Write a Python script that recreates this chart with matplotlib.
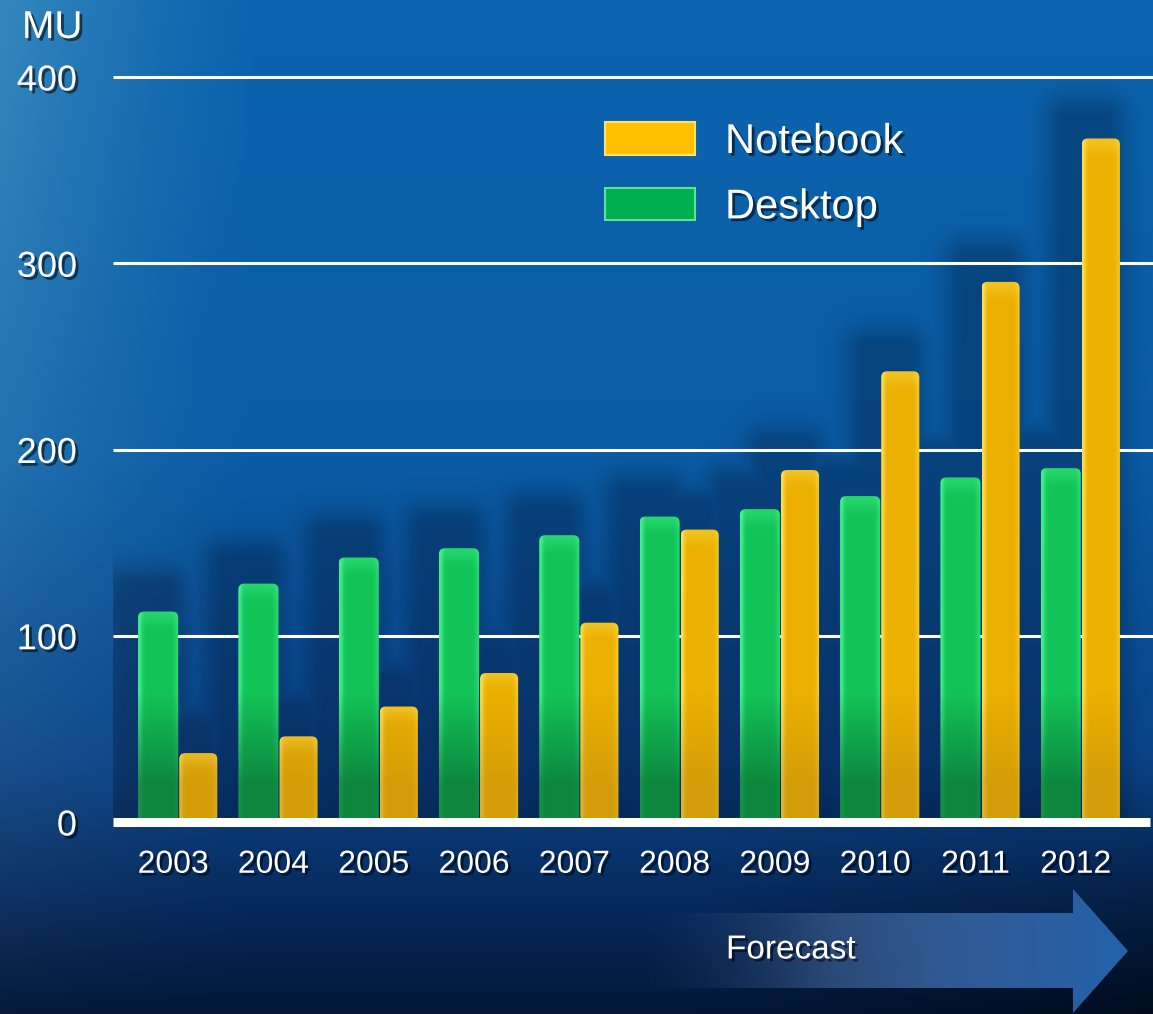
import numpy as np
import matplotlib.pyplot as plt
import matplotlib.patheffects as pe
from matplotlib.patches import Polygon, Patch, FancyBboxPatch
from matplotlib.colors import to_rgb
from matplotlib.transforms import ScaledTranslation

years = ["2003", "2004", "2005", "2006", "2007", "2008", "2009", "2010", "2011", "2012"]
desktop = [113, 128, 142, 147, 154, 164, 168, 175, 185, 190]
notebook = [37, 46, 62, 80, 107, 157, 189, 242, 290, 367]
y_ticks = [0, 100, 200, 300, 400]

W, H = 1153, 1014
plt.rcParams["font.family"] = ["Liberation Sans", "DejaVu Sans"]
shadow = [pe.SimplePatchShadow(offset=(2, -2), shadow_rgbFace="black", alpha=0.55), pe.Normal()]

fig = plt.figure(figsize=(W / 100, H / 100), dpi=100)

# background, in pixel coordinates
bg = fig.add_axes([0, 0, 1, 1])
bg.set_xlim(0, W)
bg.set_ylim(H, 0)
bg.axis("off")
yy, xx = np.mgrid[0:1:300j, 0:1:300j]
stops = [0.0, 0.45, 0.75, 0.88, 1.0]
cols = np.array([to_rgb(c) for c in ["#0c64ae", "#0a5ca6", "#0a4488", "#072c60", "#021738"]])
img = np.stack([np.interp(yy, stops, cols[:, k]) for k in range(3)], axis=-1)
left = np.clip(1 - xx / 0.22, 0, 1) ** 1.3 * np.clip(1 - yy * 0.9, 0, 1)
img = img + left[..., None] * np.array([0.16, 0.14, 0.06])
dark_right = np.clip((xx - 0.6) / 0.4, 0, 1) * np.clip((yy - 0.75) / 0.25, 0, 1)
img = img * (1 - 0.45 * dark_right[..., None])
bg.imshow(np.clip(img, 0, 1), extent=(0, W, H, 0), aspect="auto", zorder=0)

# forecast arrow
arrow = Polygon([(640, 913), (1073, 913), (1073, 889), (1128, 951), (1073, 1013),
                 (1073, 988), (640, 988)], closed=True, facecolor="none", edgecolor="none")
bg.add_patch(arrow)
u = np.linspace(0, 1, 400)
acols = np.array([to_rgb(c) for c in ["#1c3560", "#3a5a8c", "#2f5f9e", "#2563ab"]])
arow = np.stack([np.interp(u, [0.0, 0.4, 0.75, 1.0], acols[:, k]) for k in range(3)], axis=-1)
alpha = np.interp(u, [0.0, 0.35, 0.6, 1.0], [0.0, 0.7, 0.95, 1.0])
aimg = np.concatenate([arow, alpha[:, None]], axis=1)[None, :, :]
im = bg.imshow(aimg, extent=(640, 1128, 1014, 889), aspect="auto", zorder=1)
im.set_clip_path(arrow)
bg.text(726, 950, "Forecast", color="white", fontsize=24, ha="left", va="center",
        path_effects=shadow, zorder=3)
bg.text(22, 28, "MU", color="white", fontsize=28, ha="left", va="center",
        path_effects=shadow, zorder=3)

# chart axes
ax = fig.add_axes([113 / W, 1 - 822 / H, 1 - 113 / W, (822 - 77) / H])
ax.set_facecolor("none")
for s in ax.spines.values():
    s.set_visible(False)
x = np.arange(len(years))
xlim = (-0.65, len(years) - 0.28)
ax.set_xlim(*xlim)
ax.set_ylim(0, 400)

w = 0.4
g_bars = ax.bar(x - w / 2, desktop, w, color="none", zorder=3)
n_bars = ax.bar(x + w / 2, notebook, w * 0.95, color="none", zorder=3)

# soft shadow behind the bars (blurred, shifted to the left)
gx = np.linspace(*xlim, 520)
gy = np.linspace(400, 0, 300)
GX, GY = np.meshgrid(gx, gy)
sh = np.zeros_like(GX)
for p in list(g_bars) + list(n_bars):
    x0 = p.get_x() - 0.14
    x1 = x0 + p.get_width()
    top = p.get_height() + 12
    dx = np.maximum(np.maximum(x0 - GX, GX - x1), 0) * 100
    dy = np.maximum(GY - top, 0) * 1.86
    sh = np.maximum(sh, np.exp(-(dx ** 2 + dy ** 2) / 24 ** 2))
simg = np.zeros(GX.shape + (4,))
simg[..., :3] = to_rgb("#00081c")
simg[..., 3] = 0.3 * sh
ax.imshow(simg, extent=(xlim[0], xlim[1], 0, 400), aspect="auto", zorder=0.5,
          interpolation="bilinear")

ax.hlines(y_ticks[1:], 0, 1, transform=ax.get_yaxis_transform(), colors="white",
          linewidth=2.2, clip_on=False, zorder=1)
ax.hlines([0], 0, 0.997, transform=ax.get_yaxis_transform(), colors="white",
          linewidth=6.5, clip_on=False, zorder=6)


def shade(bars, light, mid, dark, bottom_dark):
    light, mid, dark = (np.array(to_rgb(c)) for c in (light, mid, dark))
    for p in bars:
        x0, y0, bw, bh = p.get_x(), p.get_y(), p.get_width(), p.get_height()
        uu = np.linspace(0, 1, 40)
        s = 0.9 * np.exp(-(uu / 0.09) ** 2) + 0.45 * np.exp(-((1 - uu) / 0.1) ** 2)
        yv = np.linspace(y0 + bh, y0, 120)
        d = np.clip((70 - yv) / 50, 0, 1) * bottom_dark
        tophl = np.exp(-((y0 + bh - yv) / 6) ** 2) * 0.35
        row = mid + np.clip(s, 0, 1)[:, None] * (light - mid)
        im = row[None, :, :] * (1 - d[:, None, None]) + dark * d[:, None, None]
        im = im + tophl[:, None, None] * (light - im)
        # rounded outline: ~6 px radius (x: 100 px/unit, y: 1.86 px/unit)
        clip = FancyBboxPatch((x0, y0), bw, bh, boxstyle="round,pad=0,rounding_size=0.06",
                              mutation_aspect=(6 / 1.86) / 0.06, transform=ax.transData,
                              facecolor="none", edgecolor="none")
        ax.add_patch(clip)
        art = ax.imshow(np.clip(im, 0, 1), extent=(x0, x0 + bw, y0, y0 + bh),
                        aspect="auto", zorder=4, interpolation="bilinear")
        art.set_clip_path(clip)


shade(g_bars, "#46f590", "#12c458", "#0a7334", 0.75)
shade(n_bars, "#ffe35a", "#ebb000", "#b98512", 0.45)
ax.set_xlim(*xlim)
ax.set_ylim(0, 400)

ax.set_xticks(x, years)
ax.set_yticks(y_ticks)
ax.tick_params(axis="y", length=0, pad=26, labelsize=26, labelcolor="white")
ax.tick_params(axis="x", length=0, pad=20, labelsize=23, labelcolor="white")
nudge = ScaledTranslation(-5 / 100, 0, fig.dpi_scale_trans)
for lab in ax.get_xticklabels():
    lab.set_transform(lab.get_transform() + nudge)
for lab in ax.get_xticklabels() + ax.get_yticklabels():
    lab.set_path_effects(shadow)

handles = [Patch(facecolor="#ffc000", edgecolor="#ffe070", linewidth=1.5, label="Notebook"),
           Patch(facecolor="#00b050", edgecolor="#60e090", linewidth=1.5, label="Desktop")]
leg = fig.legend(handles=handles, loc="upper left", bbox_to_anchor=(605 / W, 1 - 122 / H),
                 frameon=False, fontsize=30, handlelength=2.16, handleheight=0.82,
                 handletextpad=0.72, labelspacing=0.61, borderpad=0, borderaxespad=0)
for t in leg.get_texts():
    t.set_color("white")
    t.set_path_effects(shadow)

fig.savefig("out.png", dpi=100)
